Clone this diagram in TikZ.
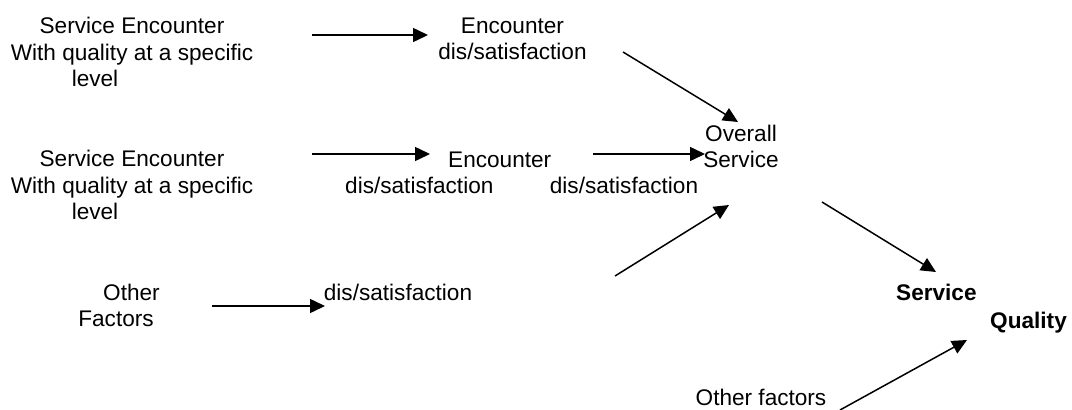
\documentclass[tikz,border=0pt]{standalone}
\usepackage{fontspec}
\setmainfont{Liberation Sans}
\usetikzlibrary{arrows.meta}

\tikzset{
  txt/.style={inner sep=0pt, font=\fontsize{22.6}{26.5}\selectfont, align=center, anchor=base},
  arr/.style={line width=1.5pt, -{Triangle[length=15pt, width=14pt]}}
}

\begin{document}
\begin{tikzpicture}[x=1pt, y=-1pt]
  \useasboundingbox (0,0) rectangle (1072,410);

  % text (base = last line)
  \node[txt] (enc1) at (132,86.5) {Service Encounter\\With quality at a specific\\level\rule{74pt}{0pt}};
  \node[txt] (sat1) at (512.5,59.5) {Encounter\\dis/satisfaction};
  \node[txt] (enc2) at (132,219.7) {Service Encounter\\With quality at a specific\\level\rule{74pt}{0pt}};
  \node[txt, align=left, anchor=base west] (sat2) at (345,193.5) {\hspace*{103pt}Encounter\\dis/satisfaction};
  \node[txt] (overall) at (741,167.5) {Overall\\Service};
  \node[txt] (ovsat) at (624,193) {dis/satisfaction};
  \node[txt] (other) at (116,326.5) {\rule{31pt}{0pt}Other\\Factors};
  \node[txt] (sat3) at (398,300) {dis/satisfaction};
  \node[txt, align=left, anchor=base west, font=\fontsize{22.6}{28}\selectfont\bfseries] (quality) at (896,328) {Service\\\hspace*{94pt}Quality};
  \node[txt] (otherq) at (761,405) {Other factors};

  % arrow ends
  \coordinate (a1s) at (312,35);  \coordinate (a1e) at (428,35);
  \coordinate (a2s) at (312,154); \coordinate (a2e) at (430,154);
  \coordinate (a3s) at (593,154); \coordinate (a3e) at (705,154);
  \coordinate (a4s) at (623,52);  \coordinate (a4e) at (738,122);
  \coordinate (a5s) at (212,306); \coordinate (a5e) at (325,306);
  \coordinate (a6s) at (615,276); \coordinate (a6e) at (729,205);
  \coordinate (a7s) at (822,202); \coordinate (a7e) at (936,272);
  \coordinate (a8s) at (840,410); \coordinate (a8e) at (967,340);

  \draw[arr] (a1s) -- (a1e);
  \draw[arr] (a2s) -- (a2e);
  \draw[arr] (a3s) -- (a3e);
  \draw[arr] (a4s) -- (a4e);
  \draw[arr] (a5s) -- (a5e);
  \draw[arr] (a6s) -- (a6e);
  \draw[arr] (a7s) -- (a7e);
  \draw[arr] (a8s) -- (a8e);
\end{tikzpicture}
\end{document}
